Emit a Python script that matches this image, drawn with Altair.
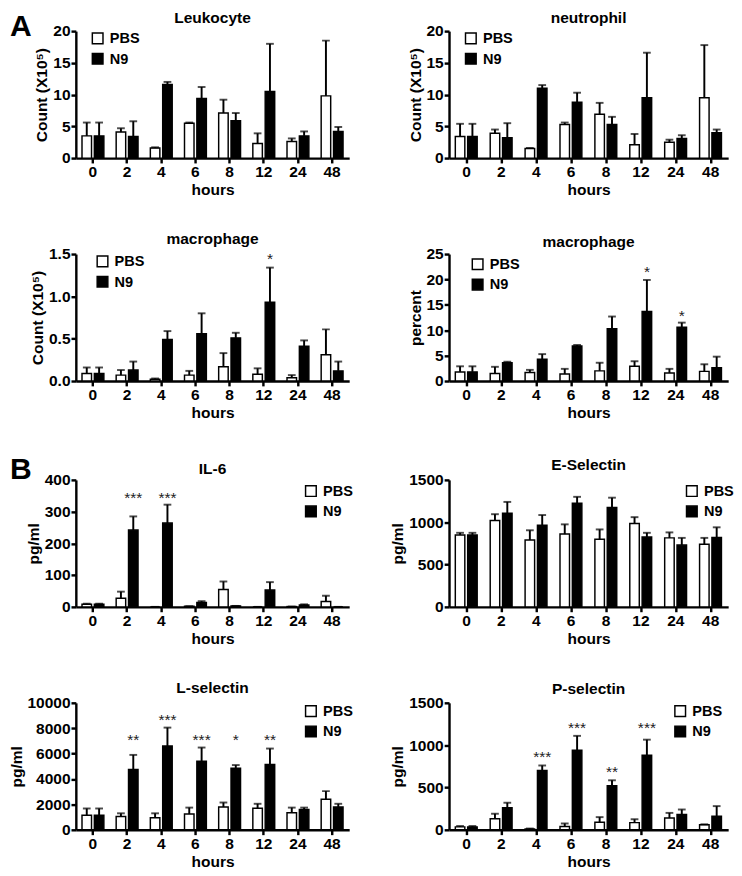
import altair as alt
import pandas as pd

FONT = "Liberation Sans"

hours = ["0", "2", "4", "6", "8", "12", "24", "48"]
groups = ["PBS", "N9"]

# ---- Panel A ----
leuko_pbs = [3.5, 4.1, 1.6, 5.5, 7.1, 2.3, 2.6, 9.8]
leuko_pbs_sd = [2.1, 0.6, 0.1, 0.1, 2.1, 1.6, 0.5, 8.7]
leuko_n9 = [3.5, 3.4, 11.6, 9.4, 5.9, 10.5, 3.5, 4.2]
leuko_n9_sd = [2.1, 2.4, 0.4, 1.8, 1.2, 7.5, 0.7, 0.7]

neut_pbs = [3.4, 3.9, 1.5, 5.3, 6.9, 2.1, 2.5, 9.5]
neut_pbs_sd = [2.0, 0.6, 0.1, 0.3, 1.8, 1.7, 0.4, 8.3]
neut_n9 = [3.4, 3.2, 11.0, 8.8, 5.3, 9.5, 3.1, 4.0]
neut_n9_sd = [2.0, 2.3, 0.5, 1.5, 1.2, 7.1, 0.5, 0.5]

macc_pbs = [0.09, 0.07, 0.02, 0.07, 0.17, 0.08, 0.04, 0.31]
macc_pbs_sd = [0.07, 0.06, 0.01, 0.05, 0.16, 0.07, 0.03, 0.30]
macc_n9 = [0.09, 0.13, 0.49, 0.56, 0.51, 0.93, 0.41, 0.12]
macc_n9_sd = [0.07, 0.10, 0.10, 0.24, 0.06, 0.41, 0.07, 0.11]
macc_star_hours = ["12"]
macc_star_labels = ["*"]
macc_star_y = [1.49]

macp_pbs = [1.8, 1.5, 1.7, 1.4, 2.0, 2.9, 1.6, 1.9]
macp_pbs_sd = [1.1, 1.3, 0.5, 1.0, 1.6, 1.0, 0.8, 1.4]
macp_n9 = [1.8, 3.6, 4.3, 6.9, 10.3, 13.7, 10.6, 2.6]
macp_n9_sd = [1.1, 0.2, 1.0, 0.2, 2.4, 6.2, 0.9, 2.2]
macp_star_hours = ["12", "24"]
macp_star_labels = ["*", "*"]
macp_star_y = [22.2, 13.6]

# ---- Panel B ----
il6_pbs = [8, 27, 0, 2, 55, 0, 1, 17]
il6_pbs_sd = [2, 21, 0, 0, 25, 0, 0, 18]
il6_n9 = [8, 242, 264, 14, 3, 53, 6, 0]
il6_n9_sd = [2, 43, 58, 4, 0, 25, 2, 0]
il6_star_hours = ["2", "4"]
il6_star_labels = ["***", "***"]
il6_star_y = [354, 354]

esel_pbs = [850, 1020, 790, 860, 800, 985, 815, 740]
esel_pbs_sd = [25, 75, 115, 115, 115, 75, 65, 75]
esel_n9 = [850, 1105, 965, 1225, 1175, 825, 730, 820]
esel_n9_sd = [25, 135, 120, 75, 115, 50, 85, 120]

lsel_pbs = [1150, 1050, 950, 1250, 1800, 1700, 1350, 2400]
lsel_pbs_sd = [530, 250, 350, 500, 350, 350, 400, 650]
lsel_n9 = [1150, 4750, 6600, 5400, 4850, 5150, 1600, 1800]
lsel_n9_sd = [530, 1150, 1450, 1080, 250, 1250, 150, 250]
lsel_star_hours = ["2", "4", "6", "8", "12"]
lsel_star_labels = ["**", "***", "***", "*", "**"]
lsel_star_y = [7330, 8980, 7330, 7330, 7330]

psel_pbs = [35, 130, 10, 40, 90, 85, 140, 60]
psel_pbs_sd = [10, 60, 5, 35, 60, 40, 60, 5]
psel_n9 = [35, 260, 700, 940, 520, 880, 180, 160]
psel_n9_sd = [10, 60, 60, 170, 65, 185, 60, 120]
psel_star_hours = ["4", "6", "8", "12"]
psel_star_labels = ["***", "***", "**", "***"]
psel_star_y = [900, 1243, 722, 1243]


def make_df(pbs, pbs_sd, n9, n9_sd):
    rows = []
    for h, v, s in zip(hours, pbs, pbs_sd):
        rows.append({"hour": h, "group": "PBS", "value": v, "top": v + s})
    for h, v, s in zip(hours, n9, n9_sd):
        rows.append({"hour": h, "group": "N9", "value": v, "top": v + s})
    return pd.DataFrame(rows)


def panel(title, title_y, ytitle, pbs, pbs_sd, n9, n9_sd, ticks, fmt, leg_x, leg_y,
          width, star_hours=None, star_labels=None, star_y=None, letter=None):
    df = make_df(pbs, pbs_sd, n9, n9_sd)
    xscale = alt.Scale(domain=hours, paddingInner=0.36, paddingOuter=0.18)
    xaxis = alt.Axis(labelAngle=0, tickSize=5, labelPadding=1, titlePadding=3)
    xoscale = alt.Scale(domain=groups, paddingInner=0.23, paddingOuter=0)
    yscale = alt.Scale(domain=[0, ticks[-1]], nice=False, zero=True)
    yaxis = alt.Axis(values=ticks, format=fmt, tickSize=5, labelPadding=1,
                     titlePadding=3, labelOverlap=False)

    def X():
        return alt.X("hour:N", sort=hours, title="hours", scale=xscale, axis=xaxis)

    def XO():
        return alt.XOffset("group:N", sort=groups, scale=xoscale)

    def Y(field):
        return alt.Y(field, title=ytitle, scale=yscale, axis=yaxis)

    base = alt.Chart(df)
    bars = base.mark_bar(stroke="black", strokeWidth=1.5).encode(
        x=X(), xOffset=XO(), y=Y("value:Q"),
        fill=alt.Fill("group:N", sort=groups,
                      scale=alt.Scale(domain=groups, range=["white", "black"]),
                      legend=alt.Legend(orient="none", legendX=leg_x, legendY=leg_y,
                                        title=None, symbolType="square", symbolSize=121,
                                        symbolStrokeColor="black", symbolStrokeWidth=1.5,
                                        labelFont=FONT, labelFontSize=15,
                                        labelFontWeight="bold", labelColor="black",
                                        rowPadding=4, labelOffset=5)),
    )
    err = base.mark_rule(color="black", strokeWidth=2).encode(
        x=X(), xOffset=XO(), y=Y("value:Q"), y2="top:Q")
    caps = base.mark_tick(color="black", thickness=2, size=8).encode(
        x=X(), xOffset=XO(), y=Y("top:Q"))
    layers = [bars, err, caps]
    if star_hours:
        sdf = pd.DataFrame({"hour": star_hours, "group": ["N9"] * len(star_hours),
                            "label": star_labels, "y": star_y})
        stars = alt.Chart(sdf).mark_text(font=FONT, fontSize=16, color="#222",
                                         baseline="alphabetic", dy=9).encode(
            x=X(), xOffset=XO(), y=Y("y:Q"), text="label:N")
        layers.append(stars)
    tdf = pd.DataFrame({"t": [title]})
    tt = alt.Chart(tdf).mark_text(font=FONT, fontSize=16, fontWeight="bold",
                                  color="black", align="center",
                                  baseline="middle").encode(
        text="t:N", x=alt.value(width / 2), y=alt.value(title_y))
    layers.append(tt)
    if letter:
        ldf = pd.DataFrame({"t": [letter]})
        lt = alt.Chart(ldf).mark_text(font=FONT, fontSize=31, fontWeight="bold",
                                      color="black", align="left",
                                      baseline="alphabetic").encode(
            text="t:N", x=alt.value(-68), y=alt.value(letter_y[letter]))
        layers.append(lt)
    return alt.layer(*layers).properties(width=width, height=131)


letter_y = {"A": 5, "B": -1}
WL = 282
WR = 288
sup = "Count (X10\u2075)"

p1 = panel("Leukocyte", -13, sup, leuko_pbs, leuko_pbs_sd, leuko_n9, leuko_n9_sd,
           [0, 5, 10, 15, 20], "d", 15, 0, WL, letter="A")
p2 = panel("neutrophil", -13, sup, neut_pbs, neut_pbs_sd, neut_n9, neut_n9_sd,
           [0, 5, 10, 15, 20], "d", 15, 0, WR)
p3 = panel("macrophage", -15, "Count  (X10\u2075)", macc_pbs, macc_pbs_sd, macc_n9,
           macc_n9_sd, [0, 0.5, 1.0, 1.5], ".1f", 20, 0, WL,
           macc_star_hours, macc_star_labels, macc_star_y)
p4 = panel("macrophage", -12, "percent", macp_pbs, macp_pbs_sd, macp_n9, macp_n9_sd,
           [0, 5, 10, 15, 20, 25], "d", 22, 3, WR,
           macp_star_hours, macp_star_labels, macp_star_y)
p5 = panel("IL-6", -11, "pg/ml", il6_pbs, il6_pbs_sd, il6_n9, il6_n9_sd,
           [0, 100, 200, 300, 400], "d", 235, 4, WL, il6_star_hours, il6_star_labels,
           il6_star_y, letter="B")
p6 = panel("E-Selectin", -15, "pg/ml", esel_pbs, esel_pbs_sd, esel_n9, esel_n9_sd,
           [0, 500, 1000, 1500], "d", 243, 4, WR)
p7 = panel("L-selectin", -15, "pg/ml", lsel_pbs, lsel_pbs_sd, lsel_n9, lsel_n9_sd,
           [0, 2000, 4000, 6000, 8000, 10000], "d", 235, 1, WL, lsel_star_hours,
           lsel_star_labels, lsel_star_y)
p8 = panel("P-selectin", -14, "pg/ml", psel_pbs, psel_pbs_sd, psel_n9, psel_n9_sd,
           [0, 500, 1000, 1500], "d", 231, 1, WR, psel_star_hours, psel_star_labels,
           psel_star_y)

chart = alt.concat(p1, p2, p3, p4, p5, p6, p7, p8, columns=2,
                   spacing={"row": 35, "column": 38}).resolve_scale(
    fill="independent", y="independent", x="independent"
).resolve_legend(fill="independent").properties(
    padding={"left": 0, "top": -11, "right": 0, "bottom": 0}, background="white"
).configure_view(stroke=None).configure_axis(
    domainColor="black", domainWidth=2.5, tickColor="black", tickWidth=2.5,
    labelColor="black", labelFont=FONT, labelFontSize=16, labelFontWeight="bold",
    titleColor="black", titleFont=FONT, titleFontSize=16, titleFontWeight="bold",
    grid=False, zindex=1,
)

chart.save("out.html", embed_options={"renderer": "svg", "actions": False})
